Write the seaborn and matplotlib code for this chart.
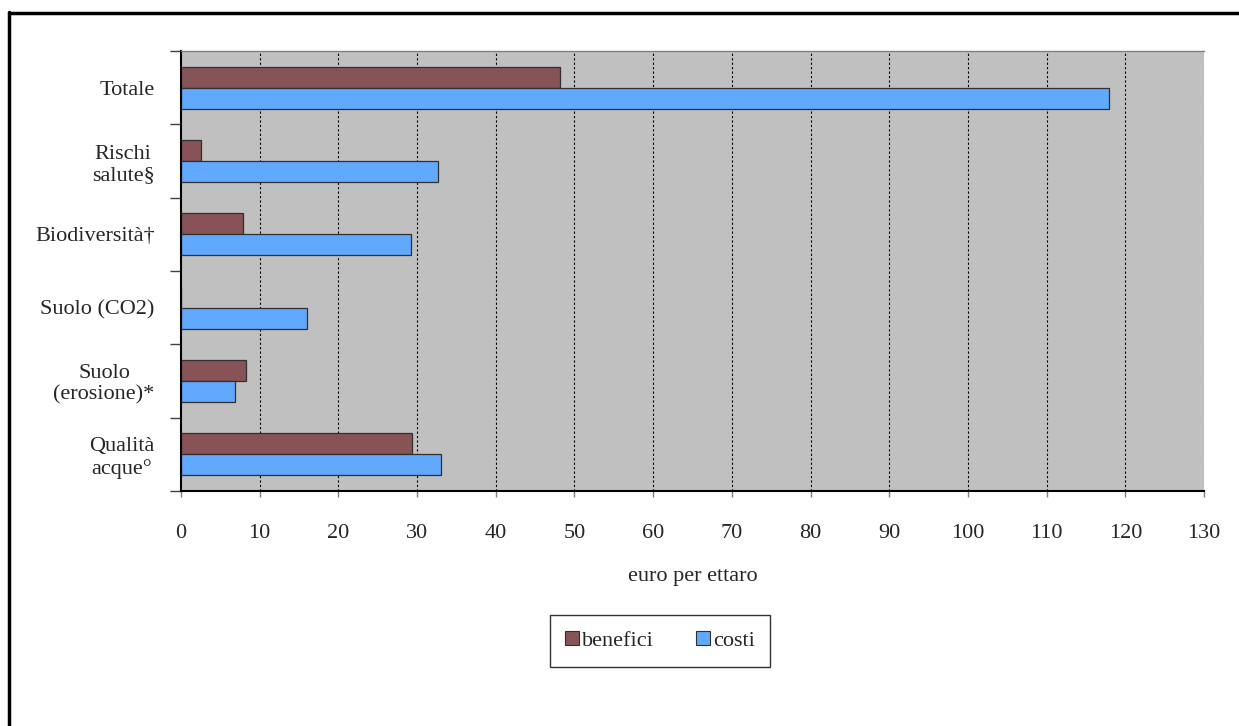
import matplotlib
matplotlib.use("Agg")
import matplotlib.pyplot as plt
import seaborn as sns
import pandas as pd
from matplotlib.lines import Line2D

categories = ["Totale", "Rischi\nsalute§", "Biodiversità†", "Suolo (CO2)",
              "Suolo\n(erosione)*", "Qualità\nacque°"]
benefici = [48.2, 2.6, 7.9, 0.0, 8.3, 29.3]
costi = [117.9, 32.7, 29.2, 16.0, 6.8, 33.1]
series_names = ["benefici", "costi"]
colors = ["#875357", "#61A8FF"]
xticks = list(range(0, 131, 10))

df = pd.DataFrame({
    "categoria": categories * 2,
    "valore": benefici + costi,
    "serie": [series_names[0]] * len(categories) + [series_names[1]] * len(categories),
})

sns.set_style("white")
plt.rcParams["font.family"] = ["Liberation Serif", "DejaVu Serif"]

fig = plt.figure(figsize=(12.39, 7.26), dpi=100)
ax = fig.add_axes([181 / 1239, 1 - 491 / 726, (1204 - 181) / 1239, 440 / 726])
ax.set_facecolor("#C0C0C0")

sns.barplot(data=df, y="categoria", x="valore", hue="serie", order=categories,
            hue_order=series_names, palette=colors, saturation=1, width=0.575, gap=0,
            edgecolor="#303030", linewidth=0.9, orient="h", ax=ax, legend=False)

ax.set_xlim(0, 130)
ax.set_ylim(len(categories) - 0.5, -0.5)
ax.set_xticks(xticks)
ax.set_xticklabels([str(t) for t in xticks], fontsize=16)
ax.tick_params(axis="x", bottom=True, length=4, width=1, color="#808080", pad=20, direction="out")
ax.set_yticks(range(len(categories)))
ax.set_yticklabels(categories, fontsize=16, multialignment="center", linespacing=1.15)
ax.tick_params(axis="y", which="major", left=True, length=0, pad=19)
ax.set_yticks([i - 0.5 for i in range(len(categories) + 1)], minor=True)
ax.tick_params(axis="y", which="minor", left=True, length=8, width=1, color="#404040", direction="out")

ax.set_xlabel("euro per ettaro", fontsize=16, labelpad=17)
ax.set_ylabel("")

ax.grid(False)
for t in xticks[1:]:
    ax.axvline(t, color="#000000" if t < 130 else "#707070", linestyle=(0, (2, 2)),
               linewidth=0.8, zorder=0.5)
ax.set_axisbelow(True)

ax.spines["top"].set_color("#808080")
ax.spines["top"].set_linewidth(1)
ax.spines["right"].set_visible(False)
ax.spines["left"].set_color("#000000")
ax.spines["left"].set_linewidth(1.5)
ax.spines["bottom"].set_color("#000000")
ax.spines["bottom"].set_linewidth(1.5)

handles = [Line2D([0], [0], marker="s", linestyle="none", markersize=10,
                  markerfacecolor=c, markeredgecolor="#303030", markeredgewidth=0.8)
           for c in colors]
leg = fig.legend(handles, series_names, loc="center", bbox_to_anchor=(660 / 1239, 1 - 641 / 726),
                 ncol=2, frameon=True, fancybox=False, edgecolor="#000000",
                 fontsize=16, handlelength=0.6, handletextpad=0.15, columnspacing=1.9,
                 borderpad=0.7, borderaxespad=0)
leg.get_frame().set_linewidth(1)

# outer frame (top and left edges visible)
fig.add_artist(Line2D([9 / 1239, 9 / 1239], [0, 1 - 12 / 726], transform=fig.transFigure,
                      color="black", linewidth=2.5))
fig.add_artist(Line2D([9 / 1239, 1], [1 - 13 / 726, 1 - 13 / 726], transform=fig.transFigure,
                      color="black", linewidth=2.5))

fig.savefig("out.png", dpi=100, facecolor="white")
